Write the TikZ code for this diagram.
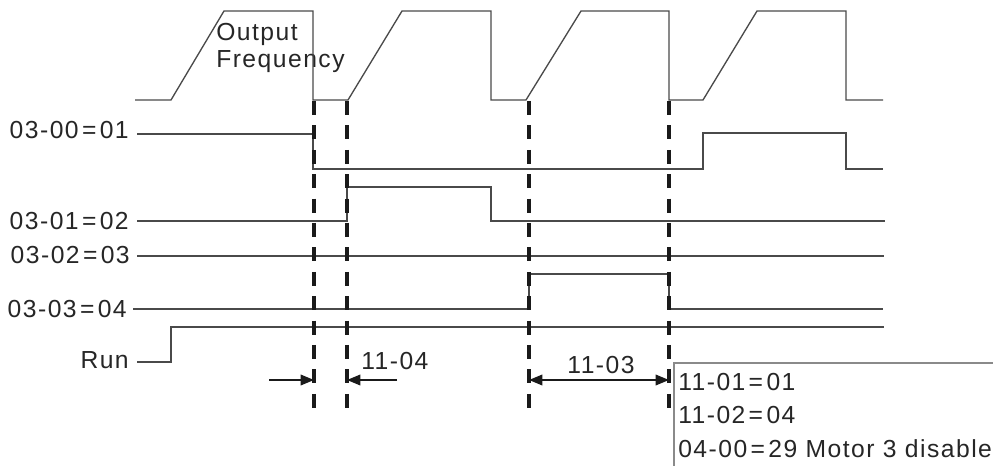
\documentclass[tikz,border=0pt]{standalone}
\usepackage{fontspec}
\setmainfont{Liberation Sans}
\usetikzlibrary{arrows.meta, positioning, calc}
\definecolor{csig}{HTML}{4A4A4A}
\definecolor{cdash}{HTML}{1A1A1A}
\definecolor{cbox}{HTML}{8A8A8A}
\tikzset{
  every picture/.style={x=0.75pt, y=-0.75pt},
  sig/.style={draw=csig, line width=1pt},
  markline/.style={draw=cdash, line width=2.4pt, dash pattern=on 10.5pt off 7.8pt},
  arrow/.style={-{Triangle[length=10pt, width=8pt]}, draw=cdash, line width=1pt},
  darrow/.style={{Triangle[length=10pt, width=8pt]}-{Triangle[length=10pt, width=8pt]}, draw=cdash, line width=1pt},
  boxline/.style={draw=cbox, line width=0.8pt},
  lab/.style={font=\fontsize{18.5}{18.75}\selectfont\addfontfeature{LetterSpace=6}, inner sep=0pt, text=black!85, align=left},
}
\newcommand{\eq}{\kern2.5pt=\kern2.5pt}
\begin{document}
\begin{tikzpicture}
  \useasboundingbox (0,0) rectangle (993,466);
  % signal names
  \node[lab, anchor=east] (s0) at (129,130) {03-00\eq01};
  \node[lab, anchor=east] (s1) at (129,221) {03-01\eq02};
  \node[lab, anchor=east] (s2) at (130,255) {03-02\eq03};
  \node[lab, anchor=east] (s3) at (127,309) {03-03\eq04};
  \node[lab, anchor=east] (run) at (129,360) {Run};
  \node[lab, anchor=west] (of) at (216,48) {Output\\[2pt]Frequency};
  % output frequency
  \draw[sig] (135,100) -- (171,100) -- (224,11) -- (313,11) -- (313,100) -- (348,100)
    -- (402,11) -- (491,11) -- (491,100) -- (526,100) -- (581,11) -- (669,11) -- (669,100)
    -- (703,100) -- (757,11) -- (846,11) -- (846,100) -- (883,100);
  % relay outputs
  \draw[sig] ($(s0.east)+(8,4)$) -- (313,134) -- (313,169) -- (703,169) -- (703,133) -- (846,133) -- (846,169) -- (883,169);
  \draw[sig] ($(s1.east)+(8,0)$) -- (347,221) -- (347,187) -- (491,187) -- (491,221) -- (885,221);
  \draw[sig] ($(s2.east)+(7,1)$) -- (884,256);
  \draw[sig] ($(s3.east)+(6,0)$) -- (529,309) -- (529,274) -- (669,274) -- (669,309) -- (883,309);
  \draw[sig] ($(run.east)+(8,2)$) -- (171,362) -- (171,327) -- (884,327);
  % switching instants
  \foreach \x/\n in {314/d1, 347/d2, 529/d3, 669/d4} {
    \draw[markline] (\x,101) -- (\x,408);
    \coordinate (\n) at (\x,380);
  }
  \coordinate (a1) at (269,380);
  \coordinate (a2) at (397,380);
  \draw[arrow] (a1) -- (d1);
  \draw[arrow] (a2) -- (d2);
  \draw[darrow] (d3) -- (d4);
  \node[lab, anchor=west] (t04) at (361,361) {11-04};
  \node[lab] (t03) at (601,365) {11-03};
  % settings
  \draw[boxline] (993,363) -- (674,363) -- (674,466);
  \node[lab, anchor=west] (p1) at (678,382) {11-01\eq01};
  \node[lab, anchor=west] (p2) at (678,415) {11-02\eq04};
  \node[lab, anchor=west] (p3) at (678,449) {04-00\eq29 Motor 3 disable};
\end{tikzpicture}
\end{document}
